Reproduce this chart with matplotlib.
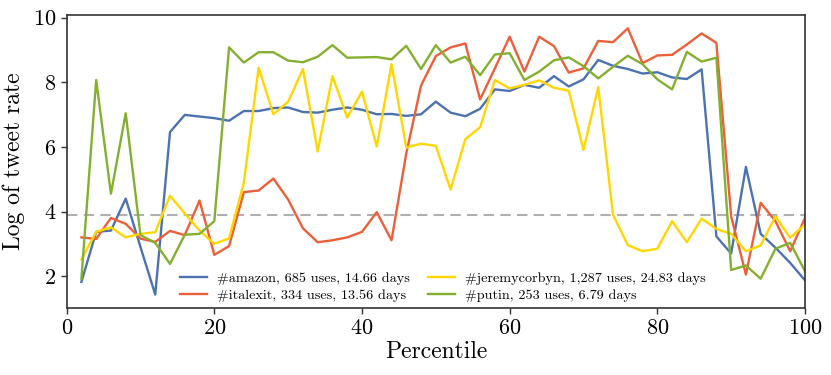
import matplotlib
matplotlib.use('Agg')
import matplotlib.pyplot as plt
import numpy as np

plt.rcParams['font.family'] = 'serif'
plt.rcParams['font.serif'] = ['cmr10']
plt.rcParams['mathtext.fontset'] = 'cm'
plt.rcParams['axes.formatter.use_mathtext'] = True

percentile = np.arange(2, 101, 2)

amazon = [1.82, 3.37, 3.41, 4.40, 2.90, 1.43, 6.46, 6.99, 6.94, 6.89,
          6.81, 7.11, 7.11, 7.20, 7.22, 7.08, 7.06, 7.15, 7.22, 7.15,
          7.01, 7.02, 6.96, 7.01, 7.40, 7.06, 6.95, 7.18, 7.78, 7.73,
          7.92, 7.83, 8.19, 7.87, 8.09, 8.69, 8.51, 8.41, 8.27, 8.31,
          8.15, 8.10, 8.40, 3.23, 2.70, 5.38, 3.31, 2.88, 2.41, 1.87]
italexit = [3.20, 3.15, 3.80, 3.62, 3.16, 3.06, 3.40, 3.27, 4.34, 2.66,
            2.93, 4.60, 4.65, 5.02, 4.37, 3.48, 3.05, 3.11, 3.20, 3.37,
            3.98, 3.11, 5.80, 7.90, 8.81, 9.08, 9.20, 7.47, 8.43, 9.41,
            8.33, 9.41, 9.12, 8.30, 8.43, 9.28, 9.24, 9.67, 8.59, 8.83,
            8.85, 9.17, 9.51, 9.22, 3.85, 2.05, 4.27, 3.70, 2.77, 3.80]
jeremycorbyn = [2.52, 3.37, 3.51, 3.20, 3.31, 3.36, 4.49, 3.94, 3.41, 3.00,
                3.17, 4.90, 8.45, 7.01, 7.40, 8.41, 5.86, 8.19, 6.91, 7.71,
                6.01, 8.56, 5.98, 6.10, 6.03, 4.68, 6.24, 6.61, 8.07, 7.81,
                7.92, 8.06, 7.83, 7.74, 5.91, 7.85, 3.90, 2.96, 2.77, 2.85,
                3.70, 3.05, 3.78, 3.46, 3.31, 2.77, 2.95, 3.85, 3.19, 3.60]
putin = [1.92, 8.07, 4.55, 7.04, 3.27, 3.03, 2.38, 3.28, 3.31, 3.70,
         9.08, 8.61, 8.93, 8.93, 8.67, 8.62, 8.79, 9.15, 8.76, 8.77,
         8.78, 8.71, 9.13, 8.41, 9.15, 8.61, 8.79, 8.22, 8.86, 8.90,
         8.07, 8.33, 8.68, 8.77, 8.50, 8.12, 8.48, 8.82, 8.56, 8.09,
         7.78, 8.94, 8.64, 8.76, 2.19, 2.33, 1.92, 2.85, 3.03, 2.15]

labels = ['#amazon, 685 uses, 14.66 days',
          '#italexit, 334 uses, 13.56 days',
          '#jeremycorbyn, 1,287 uses, 24.83 days',
          '#putin, 253 uses, 6.79 days']
threshold = 3.9

fig = plt.figure(figsize=(8.31, 3.75), dpi=100)
ax = fig.add_axes([0.0802, 0.179, 0.8885, 0.781])

ax.axhline(threshold, color='#b0b0b0', lw=1.5, ls=(0, (5, 3)))
ax.plot(percentile, amazon, color='#4c72b0', lw=1.7, label=labels[0])
ax.plot(percentile, italexit, color='#ec5f3a', lw=1.7, label=labels[1])
ax.plot(percentile, jeremycorbyn, color='#ffd700', lw=1.7, label=labels[2])
ax.plot(percentile, putin, color='#84b02f', lw=1.7, label=labels[3])

ax.set_xlim(0, 100)
ax.set_yticks([2, 4, 6, 8, 10])
ax.set_xlabel('Percentile', fontsize=17, labelpad=2)
ax.set_ylabel('Log of tweet rate', fontsize=17, labelpad=6)
ax.tick_params(labelsize=16, direction='out', length=4, width=1, color='0.2')
for s in ax.spines.values():
    s.set_color('0.2')
    s.set_linewidth(1.2)

ax.legend(loc='lower center', ncol=2, frameon=False, fontsize=10.2,
          bbox_to_anchor=(0.51, -0.025), columnspacing=1.3,
          handlelength=1.9, handletextpad=0.7, labelspacing=0.3)

fig.savefig('out.png', dpi=100)
